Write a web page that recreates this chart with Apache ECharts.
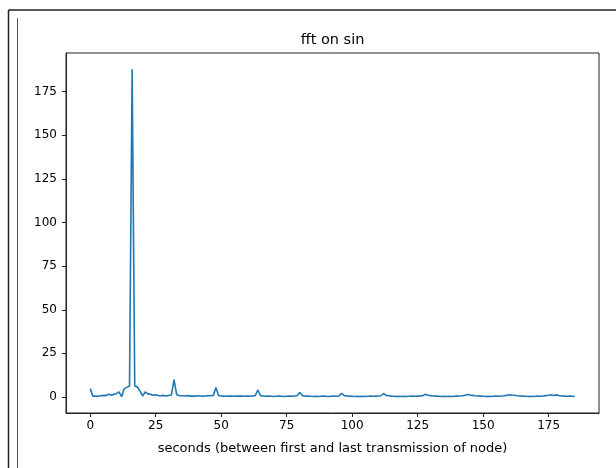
<!DOCTYPE html>
<html>
<head>
<meta charset="utf-8">
<script src="https://cdn.jsdelivr.net/npm/echarts@6/dist/echarts.min.js"></script>
<style>
  html, body { margin: 0; padding: 0; background: #fff; }
  #chart { width: 616px; height: 468px; }
</style>
</head>
<body>
<div id="chart"></div>
<script>
// FFT magnitude per bin
const magnitudes = [
  4.8, 0.5, 0.6, 0.4, 0.7, 0.9, 0.8, 1.6, 1.0, 1.5,
  1.9, 2.9, 0.2, 4.8, 5.5, 6.3, 187.8, 6.3, 5.8, 3.4,
  0.6, 2.9, 1.8, 1.5, 1.0, 1.3, 0.8, 0.7, 0.9, 0.6,
  0.9, 1.1, 10.0, 1.3, 0.8, 0.7, 0.6, 0.8, 0.5, 0.6,
  0.5, 0.7, 0.6, 0.5, 0.6, 0.8, 0.7, 0.9, 5.4, 0.9,
  0.6, 0.5, 0.4, 0.6, 0.5, 0.4, 0.5, 0.6, 0.5, 0.4,
  0.5, 0.4, 0.6, 0.8, 4.0, 0.8, 0.6, 0.4, 0.5, 0.4,
  0.3, 0.4, 0.5, 0.4, 0.3, 0.4, 0.5, 0.4, 0.6, 0.7,
  2.6, 0.8, 0.6, 0.5, 0.4, 0.3, 0.4, 0.3, 0.4, 0.5,
  0.4, 0.3, 0.4, 0.5, 0.4, 0.6, 2.1, 0.8, 0.6, 0.5,
  0.4, 0.3, 0.4, 0.3, 0.4, 0.3, 0.4, 0.5, 0.4, 0.5,
  0.6, 0.7, 2.0, 0.9, 0.7, 0.5, 0.4, 0.3, 0.4, 0.3,
  0.4, 0.3, 0.4, 0.5, 0.4, 0.5, 0.6, 0.8, 1.6, 1.0,
  0.8, 0.6, 0.5, 0.4, 0.3, 0.4, 0.3, 0.4, 0.3, 0.4,
  0.5, 0.6, 0.7, 0.9, 1.5, 1.1, 0.9, 0.7, 0.6, 0.5,
  0.4, 0.3, 0.4, 0.3, 0.4, 0.5, 0.4, 0.6, 0.7, 0.9,
  1.3, 1.1, 1.0, 0.7, 0.6, 0.5, 0.4, 0.3, 0.4, 0.3,
  0.4, 0.5, 0.4, 0.6, 0.8, 1.0, 1.3, 0.9, 1.2, 0.8,
  0.6, 0.5, 0.4, 0.5, 0.4, 0.3
];
const xTicks = [0, 25, 50, 75, 100, 125, 150, 175];
const yTicks = [0, 25, 50, 75, 100, 125, 150, 175];
const titleText = 'fft on sin';
const xLabel = 'seconds (between first and last transmission of node)';

const points = magnitudes.map((v, i) => [i, v]);

// matplotlib-style 5% autoscale margins
const xLo = 0, xHi = magnitudes.length - 1;
const yLo = Math.min(...magnitudes), yHi = Math.max(...magnitudes);
const xPad = (xHi - xLo) * 0.05, yPad = (yHi - yLo) * 0.05;

const FONT = 'DejaVu Sans';
const chart = echarts.init(document.getElementById('chart'), null, { renderer: 'canvas' });

chart.setOption({
  animation: false,
  backgroundColor: '#fff',
  grid: {
    left: 66, top: 53, right: 17, bottom: 55,
    show: true, borderColor: '#222', borderWidth: 1, backgroundColor: 'transparent'
  },
  xAxis: {
    type: 'value',
    min: xLo - xPad, max: xHi + xPad,
    name: xLabel, nameLocation: 'middle', nameGap: 29,
    nameTextStyle: { fontFamily: FONT, fontSize: 13, color: '#000' },
    axisLine: { show: true, onZero: false, lineStyle: { color: '#222', width: 1 } },
    axisTick: { show: true, length: 4, customValues: xTicks, lineStyle: { color: '#222' } },
    axisLabel: { customValues: xTicks, margin: 7, fontFamily: FONT, fontSize: 12, color: '#000' },
    splitLine: { show: false }
  },
  yAxis: {
    type: 'value',
    min: yLo - yPad, max: yHi + yPad,
    axisLine: { show: true, onZero: false, lineStyle: { color: '#222', width: 1 } },
    axisTick: { show: true, length: 4, customValues: yTicks, lineStyle: { color: '#222' } },
    axisLabel: { customValues: yTicks, margin: 9, fontFamily: FONT, fontSize: 12, color: '#000' },
    splitLine: { show: false }
  },
  series: [{
    type: 'line',
    data: points,
    showSymbol: false,
    lineStyle: { color: '#1f77b4', width: 1.6 },
    itemStyle: { color: '#1f77b4' }
  }],
  graphic: [
    // outer frame lines
    { type: 'line', shape: { x1: 8.5, y1: 10, x2: 616, y2: 10 }, style: { stroke: '#222', lineWidth: 1.5 } },
    { type: 'line', shape: { x1: 8.5, y1: 10, x2: 8.5, y2: 468 }, style: { stroke: '#222', lineWidth: 1.5 } },
    { type: 'line', shape: { x1: 17.5, y1: 18, x2: 17.5, y2: 468 }, style: { stroke: '#555', lineWidth: 1 } },
    // title
    {
      type: 'text', x: 332.5, y: 40,
      style: { text: titleText, fontFamily: FONT, fontSize: 14.5, fill: '#000', textAlign: 'center', textVerticalAlign: 'middle' }
    }
  ]
});
</script>
</body>
</html>
